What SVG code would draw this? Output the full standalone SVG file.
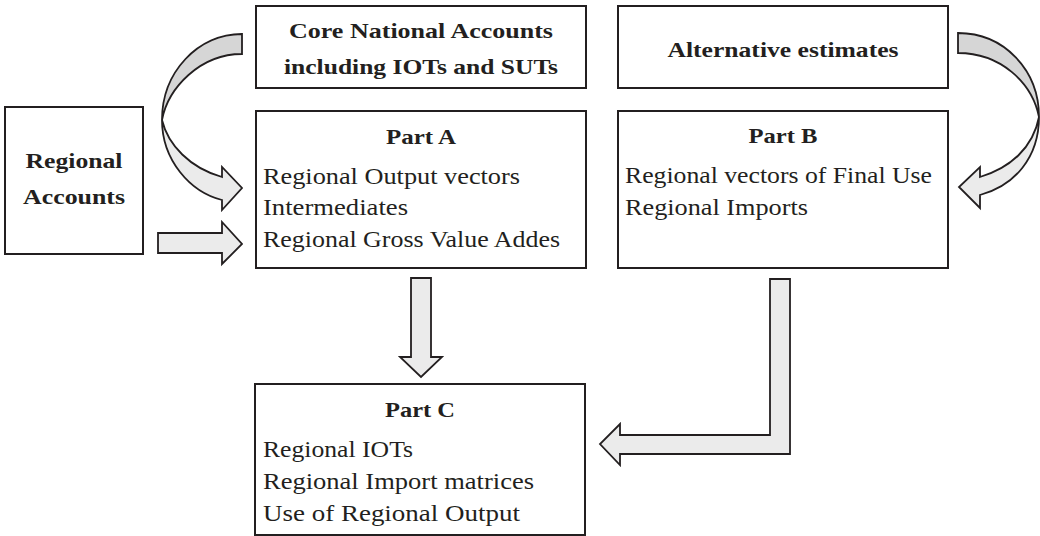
<svg xmlns="http://www.w3.org/2000/svg" width="1040" height="536" viewBox="0 0 1040 536">
<style>
  .box { fill: #ffffff; stroke: #231f20; stroke-width: 2; }
  .arrow { fill: #ebebeb; stroke: #231f20; stroke-width: 1.8; stroke-linejoin: miter; }
  .arrow-back { fill: #d6d6d6; stroke: #231f20; stroke-width: 1.8; stroke-linejoin: miter; }
  .title { font-family: "Liberation Serif", "Times New Roman", serif; font-weight: bold; font-size: 22px; fill: #231f20; text-anchor: middle; }
  .body { font-family: "Liberation Serif", "Times New Roman", serif; font-size: 24px; fill: #231f20; }
</style>
<rect width="1040" height="536" fill="#ffffff"/>

<g id="connectors">
  <!-- curved arrow: Core National Accounts -> Part A -->
  <path class="arrow-back" d="M242,34 C198,34 162,72 162,120 C168,88 200,54 242,54 Z"/>
  <path class="arrow" d="M162,120 C162,160 190,192 222,200 L222,210 L242,188 L222,167 L222,177 C190,168 168,145 162,120 Z"/>
  <!-- straight arrow: Regional Accounts -> Part A -->
  <path class="arrow" d="M158,233 L222,233 L222,222 L242,244 L222,264 L222,253 L158,253 Z"/>
  <!-- curved arrow: Alternative estimates -> Part B -->
  <path class="arrow-back" d="M958,33 C1004,33 1039,70 1039,117 C1032,82 1000,53 958,53 Z"/>
  <path class="arrow" d="M1039,117 C1039,158 1014,186 980,195 L980,208 L959,187 L980,167 L980,177 C1010,168 1033,148 1039,117 Z"/>
  <!-- down arrow: Part A -> Part C -->
  <path class="arrow" d="M411,278 L431,278 L431,357 L442,357 L421,377 L400,357 L411,357 Z"/>
  <!-- L arrow: Part B -> Part C -->
  <path class="arrow" d="M770,279 L790,279 L790,454 L620,454 L620,465 L600,444 L620,424 L620,435 L770,435 Z"/>
</g>

<g id="regional-accounts">
  <rect class="box" x="5" y="107" width="138" height="147"/>
  <text class="title" x="74" y="168" textLength="97" lengthAdjust="spacingAndGlyphs">Regional</text>
  <text class="title" x="74" y="204" textLength="102" lengthAdjust="spacingAndGlyphs">Accounts</text>
</g>

<g id="core-national-accounts">
  <rect class="box" x="256" y="6" width="330" height="82"/>
  <text class="title" x="421" y="38" textLength="264" lengthAdjust="spacingAndGlyphs">Core National Accounts</text>
  <text class="title" x="421" y="74" textLength="274" lengthAdjust="spacingAndGlyphs">including IOTs and SUTs</text>
</g>

<g id="alternative-estimates">
  <rect class="box" x="618" y="6" width="330" height="82"/>
  <text class="title" x="783" y="57" textLength="231" lengthAdjust="spacingAndGlyphs">Alternative estimates</text>
</g>

<g id="part-a">
  <rect class="box" x="256" y="111" width="330" height="157"/>
  <text class="title" x="421" y="144" textLength="70" lengthAdjust="spacingAndGlyphs">Part A</text>
  <text class="body" x="263" y="184" textLength="257" lengthAdjust="spacingAndGlyphs">Regional Output vectors</text>
  <text class="body" x="263" y="215" textLength="145" lengthAdjust="spacingAndGlyphs">Intermediates</text>
  <text class="body" x="263" y="247" textLength="297" lengthAdjust="spacingAndGlyphs">Regional Gross Value Addes</text>
</g>

<g id="part-b">
  <rect class="box" x="618" y="111" width="330" height="157"/>
  <text class="title" x="783" y="143" textLength="69" lengthAdjust="spacingAndGlyphs">Part B</text>
  <text class="body" x="625" y="183" textLength="307" lengthAdjust="spacingAndGlyphs">Regional vectors of Final Use</text>
  <text class="body" x="625" y="215" textLength="183" lengthAdjust="spacingAndGlyphs">Regional Imports</text>
</g>

<g id="part-c">
  <rect class="box" x="255" y="384" width="330" height="151"/>
  <text class="title" x="420" y="417" textLength="70" lengthAdjust="spacingAndGlyphs">Part C</text>
  <text class="body" x="263" y="457" textLength="150" lengthAdjust="spacingAndGlyphs">Regional IOTs</text>
  <text class="body" x="263" y="489" textLength="271" lengthAdjust="spacingAndGlyphs">Regional Import matrices</text>
  <text class="body" x="263" y="521" textLength="257" lengthAdjust="spacingAndGlyphs">Use of Regional Output</text>
</g>
</svg>
